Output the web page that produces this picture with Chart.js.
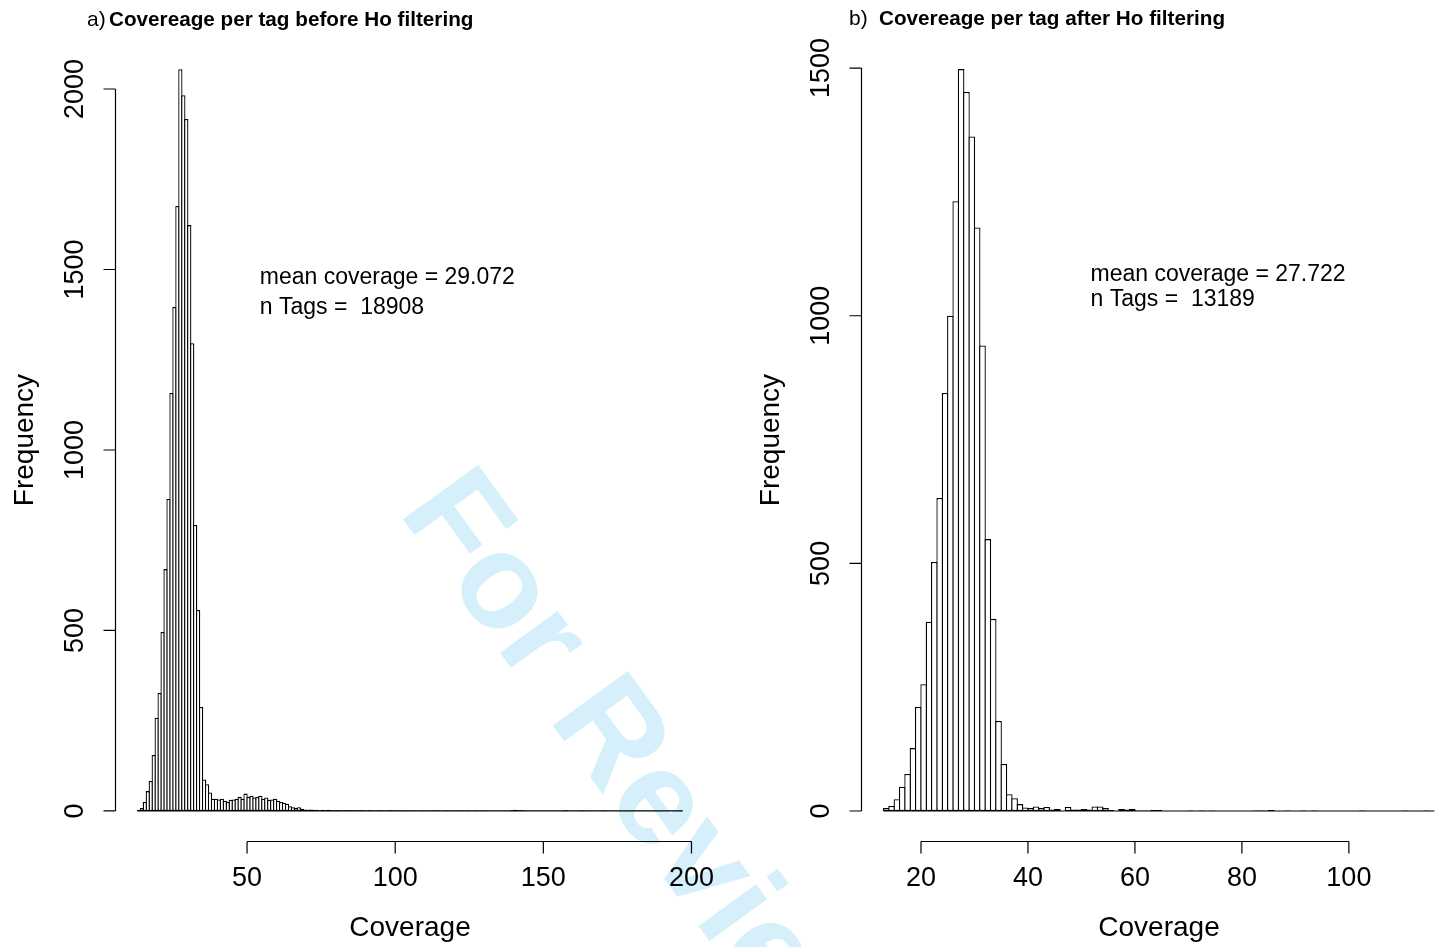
<!DOCTYPE html>
<html>
<head>
<meta charset="utf-8">
<title>Coverage per tag</title>
<script src="https://cdn.jsdelivr.net/npm/chart.js@4.4.1/dist/chart.umd.min.js"></script>
<style>
  html, body { margin: 0; padding: 0; background: #fff; overflow: hidden; }
  body { width: 1441px; height: 947px; position: relative; }
  canvas { position: absolute; top: 0; }
  #before { left: 0; }
  #after { left: 740px; }
  .stamp {
    position: absolute; left: 498px; top: 439px;
    transform-origin: 0 0; transform: rotate(54deg);
    font: bold 135px "Liberation Sans", Arial, sans-serif;
    color: #d5f0fb; white-space: nowrap;
  }
</style>
</head>
<body>
<div class="stamp">For Review</div>
<canvas id="before" width="740" height="947"></canvas>
<canvas id="after" width="717" height="947"></canvas>
<script>
// tag counts per coverage bin (bin width 1, first bin starts at *Start)
const beforeStart = 13;
const beforeCounts = [
  3, 8, 25, 55, 83, 155, 258, 327, 496, 670, 864, 1158, 1396, 1676,
  2055, 1983, 1917, 1623, 1296, 792, 557, 288, 87,
  74, 51, 34, 34, 32, 34, 28, 25, 31, 32, 34, 39, 34, 48, 39, 42, 37,
  39, 42, 34, 37, 31, 32, 34, 28, 25, 23, 20, 13, 10, 8, 10, 6,
  4, 3, 4, 3, 3, 2, 3, 2, 3, 2, 2, 2,
  2, 1, 2, 2, 1, 2, 1, 2, 1, 1, 2, 1, 1, 2, 1, 1, 1, 2, 1, 1, 1, 1,
  1, 0, 1, 1, 0, 1, 1, 1, 0, 1, 1, 1, 0, 1, 1, 0, 1, 0, 1, 1, 0, 1, 0, 0, 1, 0, 1, 0,
  0, 0, 0, 0, 0, 0, 0, 0, 2, 3, 2, 2, 1,
  0, 0, 0, 0, 0, 0, 0, 0, 0, 0, 0, 0, 0, 2, 0, 0, 0, 0, 0, 1,
  0, 0, 0, 0, 0, 0, 1, 0, 0, 0, 0, 0, 0, 0, 0, 0, 0, 0, 1,
  0, 0, 0, 0, 0, 0, 0, 0, 0, 0, 0, 0, 0, 1
];
const afterStart = 13;
const afterCounts = [
  6, 10, 24, 49, 75, 127, 210, 256, 382, 503, 632, 844, 1000, 1231,
  1498, 1452, 1362, 1178, 940, 549, 388, 182, 95, 34, 26, 14,
  7, 6, 9, 6, 8, 3, 4, 0, 8, 3, 3, 4, 3, 9, 9, 6, 2, 0, 4, 3, 4, 1, 1, 1, 2, 2,
  0, 0, 0, 0, 0, 1, 0, 1, 0, 1, 0, 0, 0, 0, 0, 0, 0, 1, 1, 1, 2, 0, 0, 1,
  0, 0, 1, 0, 1, 0, 0, 0, 0, 0, 0, 0, 0, 1, 0, 0, 0, 0, 0, 0, 0, 1, 0, 0, 0, 1, 0
];

const beforeXTicks = [50, 100, 150, 200];
const beforeYTicks = [0, 500, 1000, 1500, 2000];
const afterXTicks = [20, 40, 60, 80, 100];
const afterYTicks = [0, 500, 1000, 1500];

const beforeNotes = ["mean coverage = 29.072", "n Tags =  18908"];
const afterNotes = ["mean coverage = 27.722", "n Tags =  13189"];

const FONT = '"Liberation Sans", Arial, Helvetica, sans-serif';
const EDGE = 1.3; // outline width of the bars

function vtext(ctx, text, x, y) {
  ctx.save();
  ctx.translate(x, y);
  ctx.rotate(-Math.PI / 2);
  ctx.fillText(text, 0, 0);
  ctx.restore();
}

// base-graphics style axes: lines only span the tick range
const rAxes = {
  id: "rAxes",
  afterDraw(chart, args, o) {
    const { ctx, chartArea: a } = chart;
    const x = chart.scales.x, y = chart.scales.y;
    const tick = 12;
    ctx.save();
    ctx.strokeStyle = "#000";
    ctx.fillStyle = "#000";
    ctx.lineWidth = 1.2;
    ctx.textAlign = "center";
    ctx.textBaseline = "alphabetic";

    const bx = Math.round(a.bottom) + 0.5;
    const xs = o.xTicks.map(v => x.getPixelForValue(v));
    ctx.beginPath();
    ctx.moveTo(xs[0], bx);
    ctx.lineTo(xs[xs.length - 1], bx);
    xs.forEach(p => { ctx.moveTo(p, bx); ctx.lineTo(p, bx + tick); });
    ctx.stroke();

    const lx = Math.round(a.left) - 0.5;
    const ys = o.yTicks.map(v => y.getPixelForValue(v));
    ctx.beginPath();
    ctx.moveTo(lx, ys[0]);
    ctx.lineTo(lx, ys[ys.length - 1]);
    ys.forEach(p => { ctx.moveTo(lx, p); ctx.lineTo(lx - tick, p); });
    ctx.stroke();

    ctx.font = `27px ${FONT}`;
    o.xTicks.forEach((v, i) => ctx.fillText(String(v), xs[i], a.bottom + 45));
    o.yTicks.forEach((v, i) => vtext(ctx, String(v), a.left - 32.6, ys[i]));
    ctx.font = `28px ${FONT}`;
    ctx.fillText("Coverage", (a.left + a.right) / 2, a.bottom + 95);
    vtext(ctx, "Frequency", a.left - 83, (a.top + a.bottom) / 2);

    ctx.textAlign = "left";
    ctx.font = `21px ${FONT}`;
    ctx.fillText(o.tag, o.tagX, o.titleY);
    ctx.font = `bold 20.7px ${FONT}`;
    ctx.fillText(o.title, o.titleX, o.titleY);

    ctx.font = `23px ${FONT}`;
    o.notes.forEach((t, i) => {
      ctx.fillText(t, x.getPixelForValue(o.noteX), y.getPixelForValue(o.noteY[i]));
    });
    ctx.restore();
  }
};

function drawHist(id, start, counts, o) {
  const lo = start, hi = start + counts.length;
  const top = Math.max(...counts);
  // 4% padding on both ranges, like R's default xlim/ylim
  const xPad = (hi - lo) * 0.04, yPad = top * 0.04;
  const xMin = lo - xPad, xMax = hi + xPad;
  const canvas = document.getElementById(id);
  const binPx = (canvas.width - o.pad.left - o.pad.right) / (xMax - xMin);
  const points = counts.map((c, i) => ({ x: start + i + 0.5, y: c }));

  new Chart(canvas, {
    type: "bar",
    data: {
      datasets: [
        {
          data: points,
          backgroundColor: "#fff",
          borderColor: "#000",
          borderWidth: EDGE,
          borderSkipped: false,
          inflateAmount: 0,
          // widen by one outline so neighbouring bars share a line
          barPercentage: (binPx + EDGE) / binPx,
          categoryPercentage: 1
        },
        {
          type: "line",
          data: [{ x: lo, y: 0 }, { x: hi, y: 0 }],
          borderColor: "#000",
          borderWidth: 1.2,
          pointRadius: 0,
          fill: false
        }
      ]
    },
    options: {
      responsive: false,
      animation: false,
      devicePixelRatio: 1,
      events: [],
      layout: { padding: o.pad },
      scales: {
        x: {
          type: "linear", display: false, offset: false, min: xMin, max: xMax,
          afterBuildTicks: s => { s.ticks = o.xTicks.map(v => ({ value: v })); }
        },
        y: {
          display: false, min: -yPad, max: top + yPad,
          afterBuildTicks: s => { s.ticks = o.yTicks.map(v => ({ value: v })); }
        }
      },
      plugins: { legend: { display: false }, tooltip: { enabled: false }, rAxes: o }
    },
    plugins: [rAxes]
  });
}

drawHist("before", beforeStart, beforeCounts, {
  pad: { left: 115.6, right: 35.6, top: 39.5, bottom: 106.4 },
  xTicks: beforeXTicks, yTicks: beforeYTicks,
  tag: "a)", tagX: 87, title: "Covereage per tag before Ho filtering", titleX: 109, titleY: 26,
  notes: beforeNotes, noteX: 54.3, noteY: [1460, 1377]
});

drawHist("after", afterStart, afterCounts, {
  pad: { left: 121.5, right: 0.5, top: 39.4, bottom: 106.3 },
  xTicks: afterXTicks, yTicks: afterYTicks,
  tag: "b)", tagX: 109, title: "Covereage per tag after Ho filtering", titleX: 139, titleY: 25,
  notes: afterNotes, noteX: 51.7, noteY: [1070, 1020]
});
</script>
</body>
</html>
